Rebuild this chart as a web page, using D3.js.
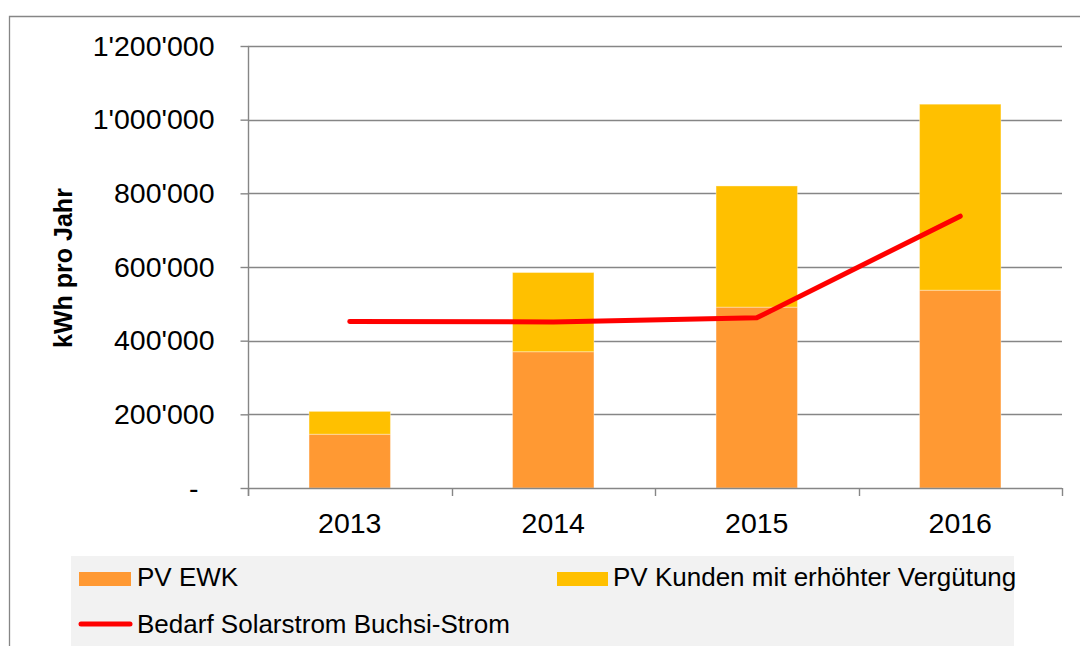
<!DOCTYPE html>
<html>
<head>
<meta charset="utf-8">
<script src="https://cdn.jsdelivr.net/npm/d3@7"></script>
<style>
  html, body { margin: 0; padding: 0; background: #fff; }
  svg { display: block; font-family: "Liberation Sans", Arial, sans-serif; }
</style>
</head>
<body>
<svg id="chart" width="1080" height="646"></svg>
<script>
// ---- data ----
const years = ["2013", "2014", "2015", "2016"];
const pvEWK = [146000, 370000, 491000, 537000];
const pvKunden = [62000, 215000, 329000, 505000];
const bedarf = [452000, 451000, 462000, 738000];
const yTicks = [0, 200000, 400000, 600000, 800000, 1000000, 1200000];
const yTickLabels = ["-", "200'000", "400'000", "600'000", "800'000", "1'000'000", "1'200'000"];
const seriesNames = ["PV EWK", "PV Kunden mit erhöhter Vergütung", "Bedarf Solarstrom Buchsi-Strom"];
const colors = { ewk: "#FF9933", kunden: "#FFC000", line: "#FF0000", axis: "#868686" };
const yTitle = "kWh pro Jahr";

const svg = d3.select("#chart");

// outer frame (left and top edges visible)
svg.append("path")
  .attr("d", "M9.5,646 L9.5,16.5 L1080,16.5")
  .attr("fill", "none").attr("stroke", colors.axis).attr("stroke-width", 1.3);

const x = d3.scaleBand().domain(years).range([248, 1062]).paddingInner(0.6).paddingOuter(0.3);
const y = d3.scaleLinear().domain([0, 1200000]).range([488, 46]);

// gridlines
svg.append("g").selectAll("line").data(yTicks.slice(1)).join("line")
  .attr("x1", 248).attr("x2", 1062)
  .attr("y1", d => Math.round(y(d)) + 0.5).attr("y2", d => Math.round(y(d)) + 0.5)
  .attr("stroke", colors.axis).attr("stroke-width", 1.4);

// stacked bars
const stackData = years.map((yr, i) => ({ year: yr, ewk: pvEWK[i], kunden: pvKunden[i] }));
const stack = d3.stack().keys(["ewk", "kunden"])(stackData);
svg.append("g").selectAll("g").data(stack).join("g")
  .attr("fill", d => colors[d.key])
  .selectAll("rect").data(d => d).join("rect")
  .attr("x", d => x(d.data.year))
  .attr("width", x.bandwidth())
  .attr("y", d => y(d[1]))
  .attr("height", d => y(d[0]) - y(d[1]))
  .attr("stroke", "rgba(255,255,255,0.35)").attr("stroke-width", 1);

// y axis
const yAxis = d3.axisLeft(y).tickValues(yTicks)
  .tickFormat((d, i) => yTickLabels[i]).tickSize(8).tickPadding(26);
const gy = svg.append("g").attr("transform", "translate(248.5,0)").call(yAxis);
gy.select(".domain").remove();
gy.selectAll(".tick line").attr("stroke", colors.axis).attr("stroke-width", 1.4);
gy.selectAll(".tick text").attr("font-size", 28.5).attr("fill", "#000")
  .attr("font-family", '"Liberation Sans", Arial, sans-serif');
gy.selectAll(".tick").filter(d => d === 0).select("text").attr("dx", -16);
svg.append("line").attr("x1", 248.5).attr("x2", 248.5).attr("y1", 46).attr("y2", 496)
  .attr("stroke", colors.axis).attr("stroke-width", 1.4);

// x axis
const xAxis = d3.axisBottom(x).tickSize(0).tickPadding(25);
const gx = svg.append("g").attr("transform", "translate(0,488)").call(xAxis);
gx.select(".domain").remove();
gx.selectAll(".tick text").attr("font-size", 28.5).attr("fill", "#000")
  .attr("font-family", '"Liberation Sans", Arial, sans-serif');
svg.append("line").attr("x1", 248).attr("x2", 1062).attr("y1", 488.5).attr("y2", 488.5)
  .attr("stroke", colors.axis).attr("stroke-width", 1.4);
const bounds = years.map(c => x(c) + x.bandwidth() / 2 - x.step() / 2);
bounds.push(bounds[bounds.length - 1] + x.step());
svg.append("g").selectAll("line").data(bounds).join("line")
  .attr("x1", d => Math.round(d) + 0.5).attr("x2", d => Math.round(d) + 0.5)
  .attr("y1", 488).attr("y2", 496)
  .attr("stroke", colors.axis).attr("stroke-width", 1.4);

// line series
const line = d3.line().x((d, i) => x(years[i]) + x.bandwidth() / 2).y(d => y(d));
svg.append("path").datum(bedarf)
  .attr("d", line).attr("fill", "none").attr("stroke", colors.line)
  .attr("stroke-width", 5).attr("stroke-linecap", "round").attr("stroke-linejoin", "miter");

// y title
svg.append("text")
  .attr("transform", "translate(72,268) rotate(-90)")
  .attr("text-anchor", "middle")
  .attr("font-size", 25).attr("font-weight", "bold").attr("fill", "#000")
  .text(yTitle);

// legend
const lg = svg.append("g");
lg.append("rect").attr("x", 71).attr("y", 556).attr("width", 943).attr("height", 95).attr("fill", "#F2F2F2");
lg.append("rect").attr("x", 79).attr("y", 572).attr("width", 52).attr("height", 14).attr("fill", colors.ewk);
lg.append("text").attr("x", 137).attr("y", 586).attr("font-size", 26).attr("fill", "#000").text(seriesNames[0]);
lg.append("rect").attr("x", 557).attr("y", 572).attr("width", 51).attr("height", 14).attr("fill", colors.kunden);
lg.append("text").attr("x", 613).attr("y", 586).attr("font-size", 26).attr("fill", "#000").text(seriesNames[1]);
lg.append("line").attr("x1", 81).attr("x2", 130).attr("y1", 624).attr("y2", 624)
  .attr("stroke", colors.line).attr("stroke-width", 5).attr("stroke-linecap", "round");
lg.append("text").attr("x", 137).attr("y", 633).attr("font-size", 26).attr("fill", "#000").text(seriesNames[2]);
</script>
</body>
</html>
